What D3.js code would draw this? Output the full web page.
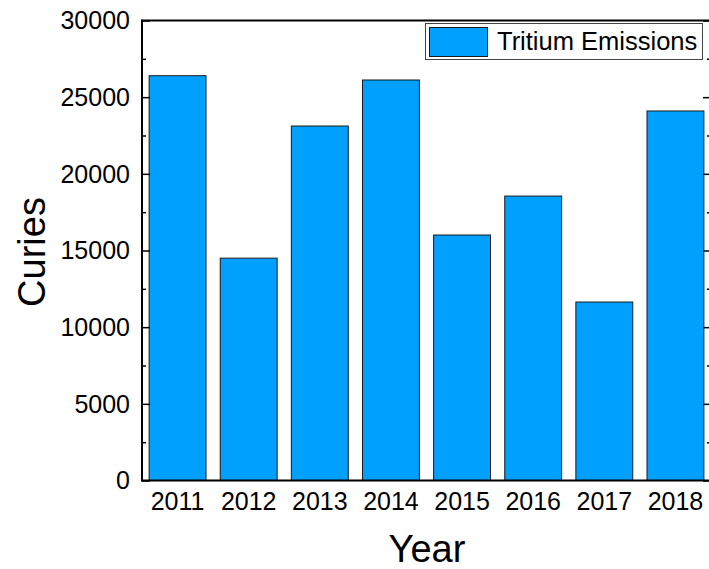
<!DOCTYPE html>
<html>
<head>
<meta charset="utf-8">
<script src="https://cdn.jsdelivr.net/npm/d3@7"></script>
<style>
  html, body { margin: 0; padding: 0; background: #fff; }
  svg { display: block; font-family: "Liberation Sans", Arial, sans-serif; }
</style>
</head>
<body>
<svg id="chart" width="709" height="569"></svg>
<script>
const years = ["2011", "2012", "2013", "2014", "2015", "2016", "2017", "2018"];
const curies = [26400, 14500, 23120, 26120, 16010, 18550, 11640, 24100];
const yTicks = [0, 5000, 10000, 15000, 20000, 25000, 30000];
const yMinorTicks = [2500, 7500, 12500, 17500, 22500, 27500];
const seriesName = "Tritium Emissions";
const xTitle = "Year";
const yTitle = "Curies";

const svg = d3.select("#chart");
const pLeft = 142, pRight = 711, pTop = 20.5, pBottom = 480.5;
const barColor = "#00A0FF";

const x = d3.scaleBand().domain(years).range([pLeft, pRight]).paddingInner(0.2).paddingOuter(0.1);
const y = d3.scaleLinear().domain([0, 30000]).range([pBottom, pTop]);

// bars
svg.append("g").selectAll("rect").data(years).join("rect")
  .attr("x", d => x(d))
  .attr("y", (d, i) => y(curies[i]))
  .attr("width", x.bandwidth())
  .attr("height", (d, i) => y(0) - y(curies[i]))
  .attr("fill", barColor)
  .attr("stroke", "#1a1a1a")
  .attr("stroke-width", 1);

// frame
const frame = svg.append("g").attr("stroke", "#000").attr("stroke-width", 2).attr("fill", "none");
frame.append("line").attr("x1", pLeft).attr("x2", pRight).attr("y1", pTop).attr("y2", pTop);
frame.append("line").attr("x1", pLeft).attr("x2", pRight).attr("y1", pBottom).attr("y2", pBottom);
frame.append("line").attr("x1", pLeft).attr("x2", pLeft).attr("y1", pTop - 1).attr("y2", pBottom + 1);
frame.append("line").attr("x1", pRight).attr("x2", pRight).attr("y1", pTop - 1).attr("y2", pBottom + 1);

// left axis (inward ticks)
const leftAxis = d3.axisRight(y).tickValues(yTicks).tickSize(8).tickFormat("");
const gl = svg.append("g").attr("transform", `translate(${pLeft},0)`).call(leftAxis);
gl.select(".domain").remove();
gl.selectAll("line").attr("stroke", "#000").attr("stroke-width", 1.5);
const leftMinor = d3.axisRight(y).tickValues(yMinorTicks).tickSize(4).tickFormat("");
const glm = svg.append("g").attr("transform", `translate(${pLeft},0)`).call(leftMinor);
glm.select(".domain").remove();
glm.selectAll("line").attr("stroke", "#000").attr("stroke-width", 1.5);

// right axis (inward ticks)
const rightAxis = d3.axisLeft(y).tickValues(yTicks).tickSize(8).tickFormat("");
const gr = svg.append("g").attr("transform", `translate(${pRight},0)`).call(rightAxis);
gr.select(".domain").remove();
gr.selectAll("line").attr("stroke", "#000").attr("stroke-width", 1.5);
const rightMinor = d3.axisLeft(y).tickValues(yMinorTicks).tickSize(4).tickFormat("");
const grm = svg.append("g").attr("transform", `translate(${pRight},0)`).call(rightMinor);
grm.select(".domain").remove();
grm.selectAll("line").attr("stroke", "#000").attr("stroke-width", 1.5);

// y tick labels
svg.append("g").selectAll("text").data(yTicks).join("text")
  .attr("x", pLeft - 12)
  .attr("y", d => y(d))
  .attr("dy", "0.35em")
  .attr("text-anchor", "end")
  .attr("font-size", 25)
  .attr("fill", "#000")
  .text(d => d);

// x tick labels
svg.append("g").selectAll("text").data(years).join("text")
  .attr("x", d => x(d) + x.bandwidth() / 2)
  .attr("y", 510)
  .attr("text-anchor", "middle")
  .attr("font-size", 25)
  .attr("fill", "#000")
  .text(d => d);

// axis titles
svg.append("text")
  .attr("transform", `translate(45,252) rotate(-90)`)
  .attr("text-anchor", "middle")
  .attr("font-size", 38)
  .attr("fill", "#000")
  .text(yTitle);
svg.append("text")
  .attr("x", 427).attr("y", 562)
  .attr("text-anchor", "middle")
  .attr("font-size", 38)
  .attr("fill", "#000")
  .text(xTitle);

// legend
const lg = svg.append("g");
lg.append("rect").attr("x", 425.5).attr("y", 23.5).attr("width", 277).attr("height", 36)
  .attr("fill", "#fff").attr("stroke", "#444").attr("stroke-width", 1);
lg.append("rect").attr("x", 429.5).attr("y", 27.5).attr("width", 58).attr("height", 29)
  .attr("fill", barColor).attr("stroke", "#1a1a1a").attr("stroke-width", 1);
lg.append("text").attr("x", 497).attr("y", 50).attr("font-size", 25.5).attr("fill", "#000").text(seriesName);
</script>
</body>
</html>
